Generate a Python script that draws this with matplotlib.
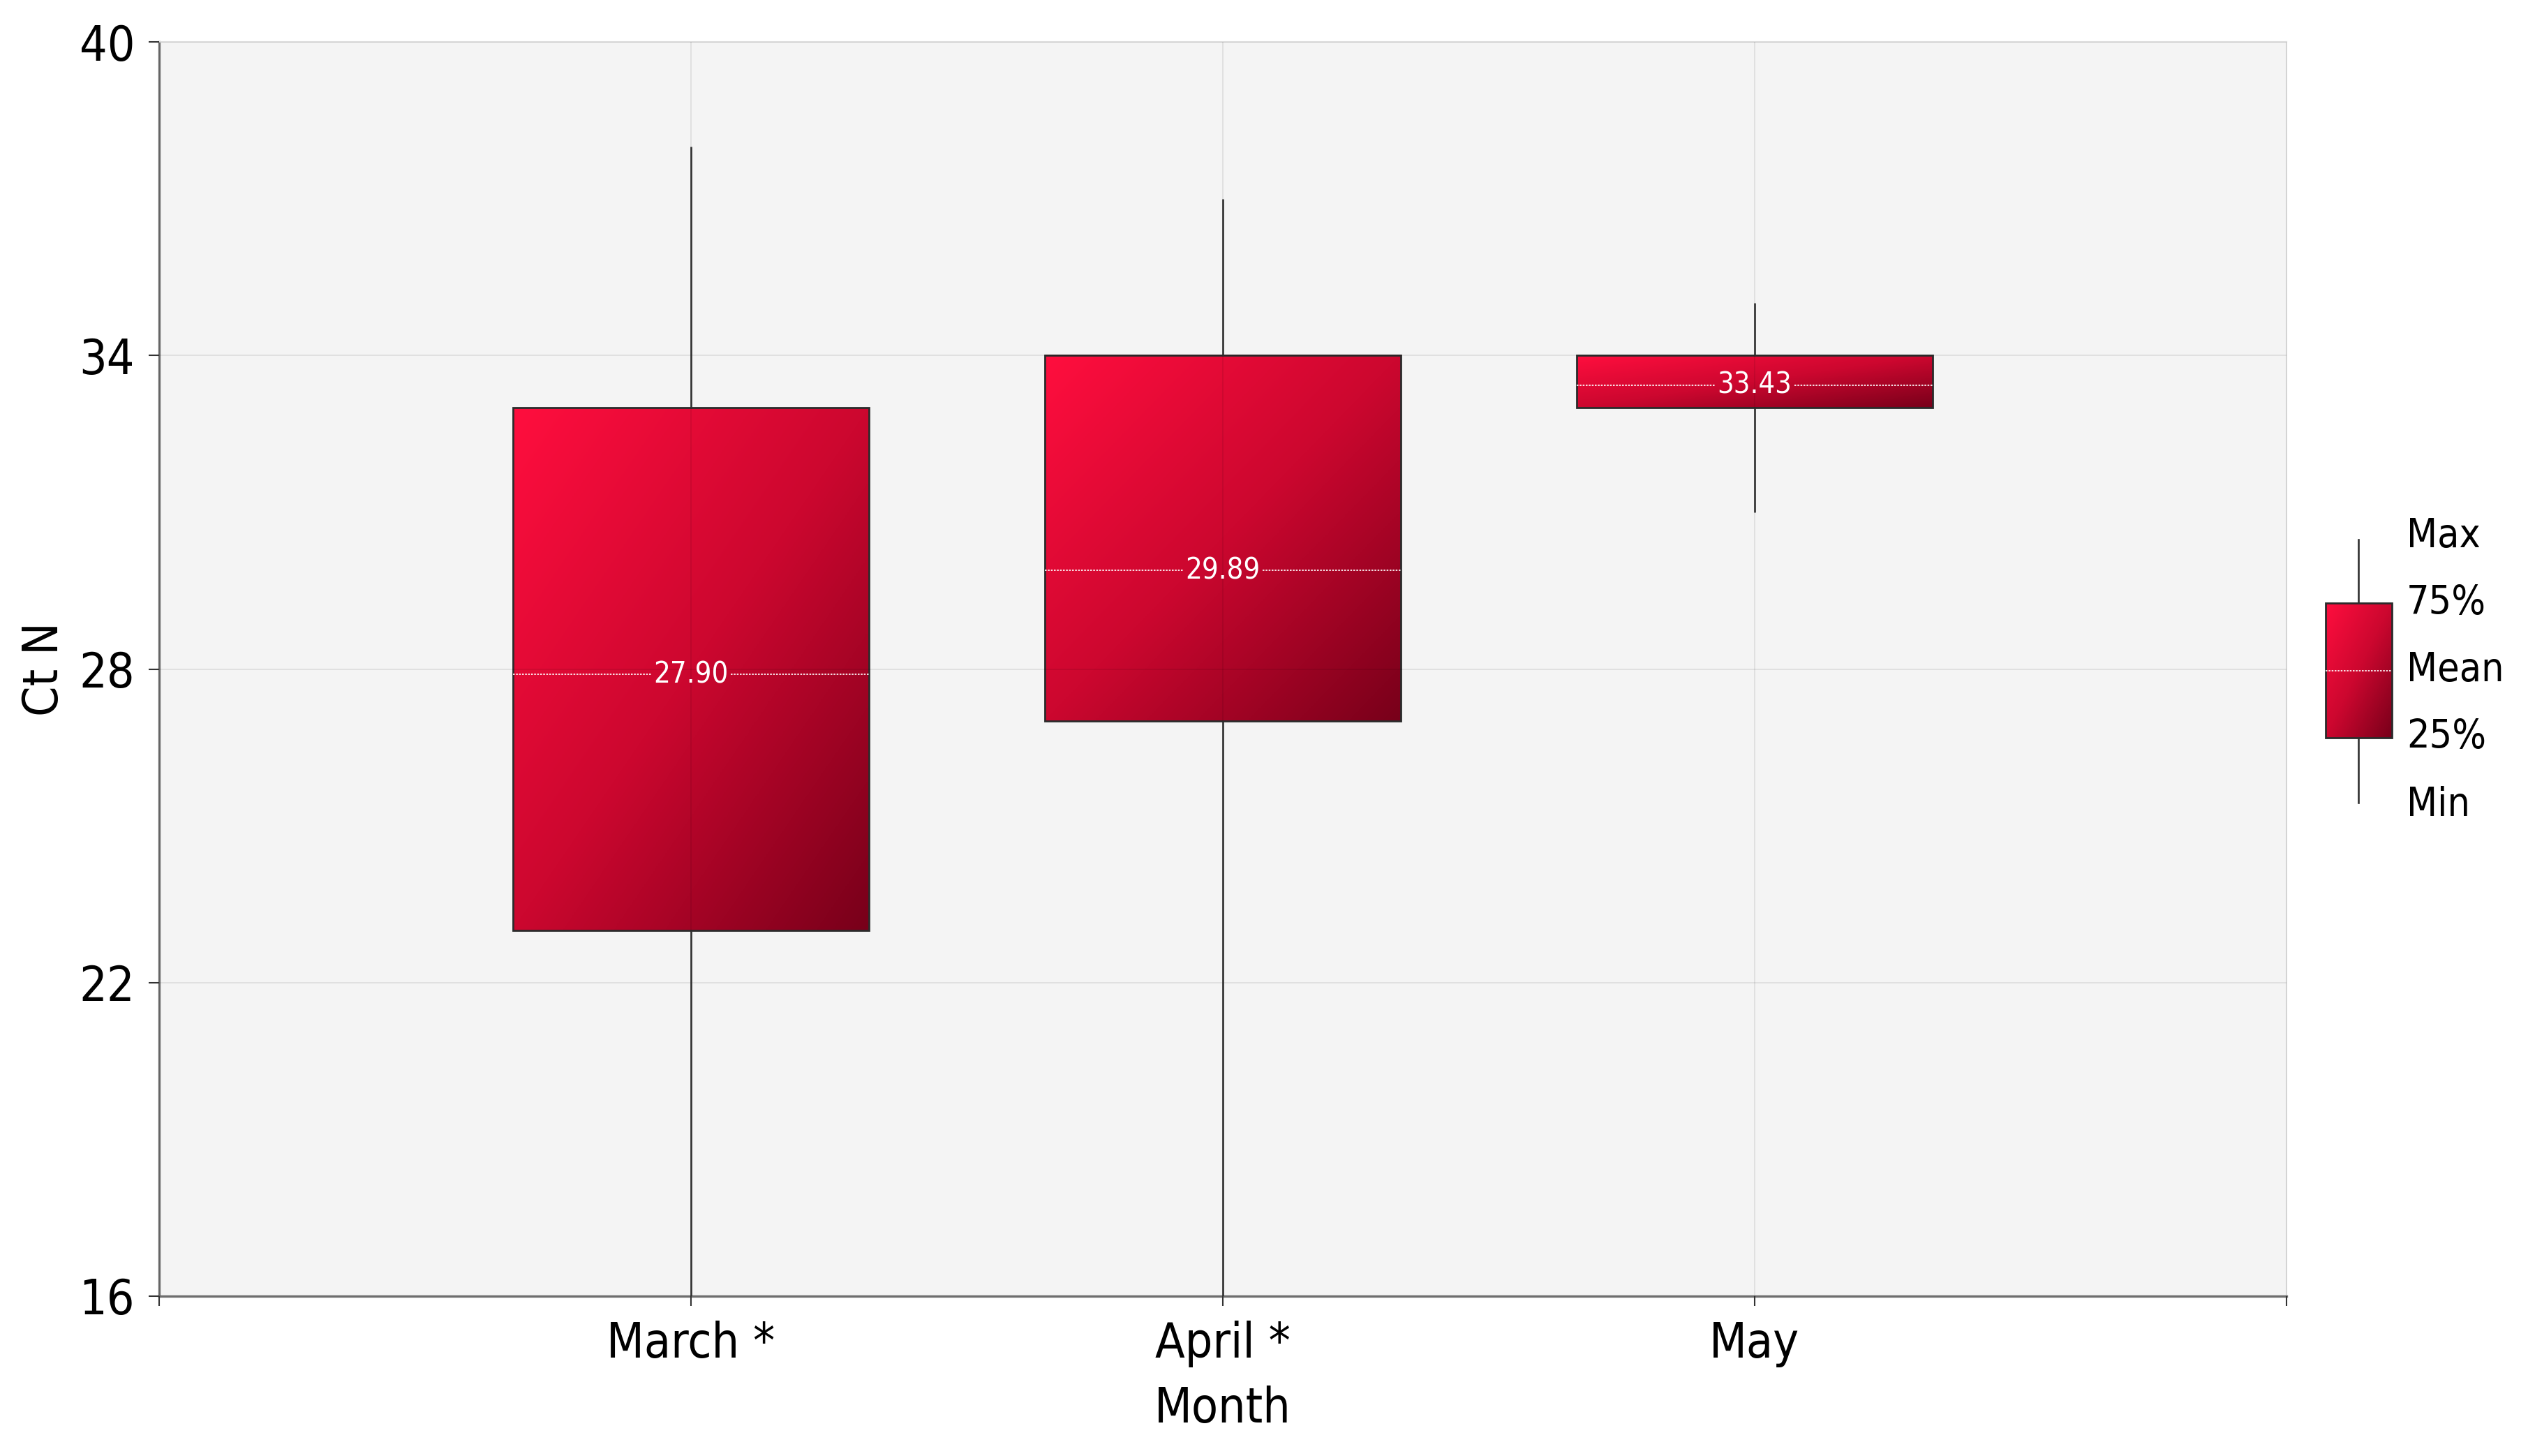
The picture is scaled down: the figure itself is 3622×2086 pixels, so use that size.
import numpy as np
import matplotlib
matplotlib.use("Agg")
import matplotlib.pyplot as plt
from matplotlib.colors import LinearSegmentedColormap

plt.rcParams['font.family'] = ['DejaVu Sans']
plt.rcParams['font.stretch'] = 'condensed'

# data
months = ['March *', 'April *', 'May']
ct_max = [38.0, 37.0, 35.0]
ct_q75 = [33.0, 34.0, 34.0]
ct_mean = [27.90, 29.89, 33.43]
ct_q25 = [23.0, 27.0, 33.0]
ct_min = [16.0, 16.0, 31.0]
y_ticks = [16, 22, 28, 34, 40]
legend_labels = ['Min', '25%', 'Mean', '75%', 'Max']

box_w = 0.67
gap = 0.075
red = LinearSegmentedColormap.from_list(
    'boxred', [(0.0, '#ff0e3e'), (0.5, '#cc072f'), (1.0, '#78001a')])
mean_ls = (0, (1.4, 1.0))

# diagonal gradient, bright top-left -> dark bottom-right
n = 200
u = np.linspace(0, 1, n)
grad = (u[None, :] + u[:, None]) / 2.0


def draw_box(ax, x, lo, hi, mean, wmin, wmax, label=None):
    x0, x1 = x - box_w / 2, x + box_w / 2
    ax.imshow(grad, cmap=red, extent=(x0, x1, lo, hi), origin='upper',
              aspect='auto', interpolation='bilinear', zorder=1)
    ax.add_patch(plt.Rectangle((x0, lo), box_w, hi - lo, fill=False,
                               ec='#2b2b2b', lw=2.0, zorder=1.5))
    ax.plot([x, x], [hi, wmax], color='#2f2f2f', lw=1.9, zorder=3,
            solid_capstyle='butt')
    ax.plot([x, x], [wmin, lo], color='#2f2f2f', lw=1.9, zorder=3,
            solid_capstyle='butt', clip_on=True)
    if label is None:
        ax.plot([x0, x1], [mean, mean], color='white', lw=1.3, ls=mean_ls,
                alpha=0.95, zorder=3)
    else:
        ax.plot([x0, x - gap], [mean, mean], color='white', lw=1.3,
                ls=mean_ls, alpha=0.95, zorder=3)
        ax.plot([x + gap, x1], [mean, mean], color='white', lw=1.3,
                ls=mean_ls, alpha=0.95, zorder=3)
        ax.text(x, mean, label, color='white', ha='center', va='center',
                fontsize=30, zorder=4)


fig = plt.figure(figsize=(36.23, 20.86), dpi=100)
ax = fig.add_axes([0.0629, 0.1098, 0.8413, 0.8614])
ax.set_facecolor('#f4f4f4')

pos = np.arange(len(months))
for i in pos:
    draw_box(ax, i, ct_q25[i], ct_q75[i], ct_mean[i], ct_min[i], ct_max[i],
             label='%.2f' % ct_mean[i])

ax.set_xlim(-1, 3)
ax.set_ylim(16, 40)
ax.set_xticks(np.arange(-1, 4))
ax.set_xticklabels([''] + months + [''])
ax.set_yticks(y_ticks)
ax.set_axisbelow(False)
ax.grid(True, color='black', alpha=0.08, lw=1.4)

ax.tick_params(axis='x', length=10, width=1.5, color='#333333', pad=15,
               labelsize=50)
ax.tick_params(axis='y', length=11, width=1.5, color='#333333', pad=14,
               labelsize=50)

for s in ['left', 'bottom']:
    ax.spines[s].set_color('#6e6e6e')
    ax.spines[s].set_linewidth(2.4)
for s in ['top', 'right']:
    ax.spines[s].set_color('#dddddd')
    ax.spines[s].set_linewidth(1.5)

ax.set_xlabel('Month', fontsize=50)
ax.set_ylabel('Ct N', fontsize=50)
ax.xaxis.set_label_coords(0.5, -0.090)
ax.xaxis.label.set_va('center')
ax.yaxis.set_label_coords(-0.0538, 0.5)
ax.yaxis.label.set_va('center')

# legend: one sample box with level labels
lax = fig.add_axes([3300 / 3623, 0.41958, 323 / 3623, 0.23993])
lax.set_xlim(0, 1)
lax.set_ylim(-0.6, 4.6)
lax.axis('off')
levels = np.arange(len(legend_labels))
lx, lw_ = 0.2455, 0.294
lax.imshow(grad, cmap=red, extent=(lx - lw_ / 2, lx + lw_ / 2, levels[1], levels[3]),
           origin='upper', aspect='auto', interpolation='bilinear', zorder=1)
lax.add_patch(plt.Rectangle((lx - lw_ / 2, levels[1]), lw_, levels[3] - levels[1],
                            fill=False, ec='#2b2b2b', lw=2.0, zorder=1.5))
lax.plot([lx, lx], [levels[3], levels[4] - 0.05], color='#2f2f2f', lw=1.9)
lax.plot([lx, lx], [levels[0] + 0.03, levels[1]], color='#2f2f2f', lw=1.9)
lax.plot([lx - lw_ / 2, lx + lw_ / 2], [levels[2], levels[2]], color='white',
         lw=1.3, ls=mean_ls, alpha=0.95, zorder=3)
for lv, name in zip(levels, legend_labels):
    lax.text(0.458, lv, name, ha='left', va='center', fontsize=41)
lax.set_xlim(0, 1)
lax.set_ylim(-0.6, 4.6)

fig.savefig('out.png', dpi=100, facecolor='white')
